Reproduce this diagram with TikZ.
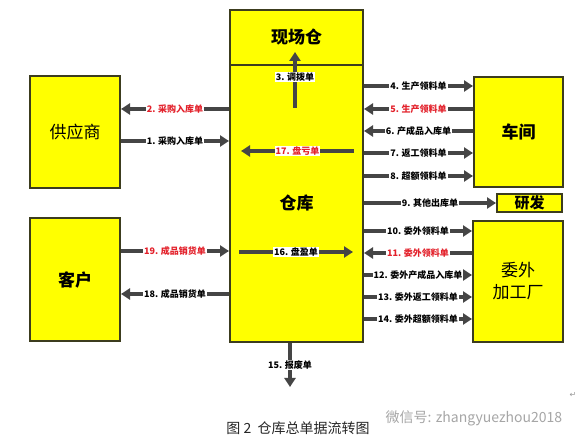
\documentclass[tikz,border=0pt]{standalone}
\usepackage{fontspec}
\setmainfont{Noto Sans CJK SC}
\newfontfamily\symfont{DejaVu Sans}
\usetikzlibrary{arrows.meta}

\definecolor{boxyellow}{HTML}{FFFF00}
\definecolor{boxline}{HTML}{3C3C1E}
\definecolor{arrowgray}{HTML}{454545}
\definecolor{labelred}{HTML}{E3212B}

\tikzset{
  box/.style={draw=boxline, line width=2pt, fill=boxyellow, inner sep=0pt,
    align=center, font=\fontsize{17}{22}\selectfont},
  boldbox/.style={box, font=\bfseries\fontsize{17}{22}\selectfont},
  flow/.style={draw=arrowgray, line width=3.2pt, -{Triangle[width=11pt,length=9pt]}},
  tag/.style={fill=white, inner sep=1pt, text=black, font=\bfseries\fontsize{9}{10}\selectfont},
  redtag/.style={tag, text=labelred},
}

\begin{document}
\begin{tikzpicture}[x=1pt, y=-1pt]
        \useasboundingbox[fill=white] (0,0) rectangle (584,446);

        % Boxes
        \node[boldbox, minimum width=133pt, minimum height=55pt] (xcc) at (296.5,37.5) {现场仓};
        \node[boldbox, minimum width=133pt, minimum height=277pt] (ck) at (296.5,203.5) {仓库};
        \node[box, minimum width=90pt, minimum height=112pt] (gys) at (75,132) {供应商};
        \node[boldbox, minimum width=90pt, minimum height=123pt] (kh) at (75,279.5) {客户};
        \node[boldbox, minimum width=89pt, minimum height=110pt] (cj) at (518.5,132) {车间};
        \node[box, minimum width=90pt, minimum height=121pt] (wj) at (518,281.5) {委外\\加工厂};
        \node[boldbox, minimum width=65pt, minimum height=18pt, font=\bfseries\fontsize{15}{16}\selectfont] (yf) at (529.5,203) {研发};

        % Supplier and customer
        \draw[flow] (ck.west |- 0,109) -- node[redtag] {2. 采购入库单} (gys.east |- 0,109);
        \draw[flow] (gys.east |- 0,141) -- node[tag] {1. 采购入库单} (ck.west |- 0,141);
        \draw[flow] (kh.east |- 0,251) -- node[redtag] {19. 成品销货单} (ck.west |- 0,251);
        \draw[flow] (ck.west |- 0,294) -- node[tag] {18. 成品销货单} (kh.east |- 0,294);

        % Workshop
        \draw[flow] (ck.east |- 0,86) -- node[tag] {4. 生产领料单} (cj.west |- 0,86);
        \draw[flow] (cj.west |- 0,109) -- node[redtag] {5. 生产领料单} (ck.east |- 0,109);
        \draw[flow] (cj.west |- 0,131) -- node[tag] {6. 产成品入库单} (ck.east |- 0,131);
        \draw[flow] (ck.east |- 0,153) -- node[tag] {7. 返工领料单} (cj.west |- 0,153);
        \draw[flow] (ck.east |- 0,176) -- node[tag] {8. 超额领料单} (cj.west |- 0,176);

        % R&D
        \draw[flow] (ck.east |- yf.west) -- node[tag] {9. 其他出库单} (yf.west);

        % Outsourcing
        \draw[flow] (ck.east |- 0,231) -- node[tag] {10. 委外领料单} (wj.west |- 0,231);
        \draw[flow] (wj.west |- 0,253) -- node[redtag] {11. 委外领料单} (ck.east |- 0,253);
        \draw[flow] (ck.east |- 0,275) -- node[tag] {12. 委外产成品入库单} (wj.west |- 0,275);
        \draw[flow] (ck.east |- 0,297) -- node[tag] {13. 委外返工领料单} (wj.west |- 0,297);
        \draw[flow] (ck.east |- 0,319) -- node[tag] {14. 委外超额领料单} (wj.west |- 0,319);

        % Inside the warehouse
        \coordinate (tb) at (295,108);
        \draw[flow] (tb) -- node[tag, pos=0.55] {3. 调拨单} ++(0,-56);
        \draw[flow] ([xshift=-10pt]ck.east |- 0,151) -- node[redtag] {17. 盘亏单} ([xshift=12pt]ck.west |- 0,151);
        \draw[flow] ([xshift=10pt]ck.west |- 0,252) -- node[tag] {16. 盘盈单} ([xshift=-11pt]ck.east |- 0,252);

        % Scrap
        \draw[flow] (ck.south -| 290,0) -- node[tag] {15. 报废单} ++(0,44);

        % Caption
        \node[text=black!85, font=\fontsize{14}{16}\selectfont] (cap) at (298,428) {图 2\ \ 仓库总单据流转图};
        \node[text=black!35, font=\fontsize{14}{16}\selectfont] (wm) at (474,418) {微信号: zhangyuezhou2018};
        \node[text=black!40, font=\symfont\fontsize{8}{9}\selectfont] (ret) at (573,395) {↵};
\end{tikzpicture}
\end{document}
